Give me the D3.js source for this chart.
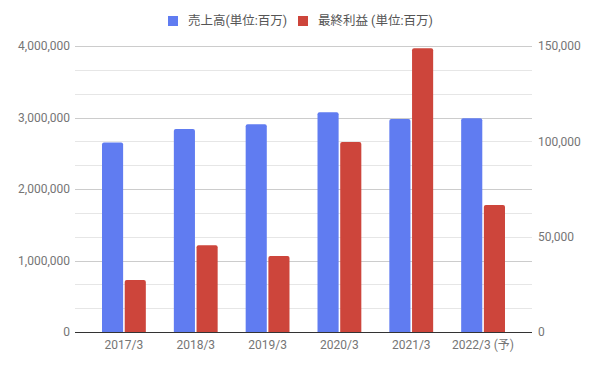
<!DOCTYPE html>
<html>
<head>
<meta charset="utf-8">
<script src="https://cdn.jsdelivr.net/npm/d3@7"></script>
<style>
  body { margin: 0; background: #fff; }
  text { font-family: Roboto, "Noto Sans CJK JP", sans-serif; }
</style>
</head>
<body>
<div id="chart"></div>
<script>
var categories = ["2017/3", "2018/3", "2019/3", "2020/3", "2021/3", "2022/3 (予)"];
var sales = [2650000, 2840000, 2905000, 3073000, 2979000, 2990000];
var profit = [27300, 45500, 39900, 99600, 148800, 66600];
var seriesNames = ["売上高(単位:百万)", "最終利益 (単位:百万)"];
var leftTicks = [0, 1000000, 2000000, 3000000, 4000000];
var rightTicks = [0, 50000, 100000, 150000];

var colors = ["#607cf1", "#cd453b"];
var W = 596, H = 368;
var plotLeft = 75, plotRight = 532, plotTop = 46, plotBottom = 332;

var svg = d3.select("#chart").append("svg")
  .attr("width", W)
  .attr("height", H);

var x = d3.scaleBand()
  .domain(categories)
  .range([88, 519])
  .paddingInner(0.39)
  .paddingOuter(0.195);

var inner = d3.scaleBand()
  .domain([0, 1])
  .range([0, x.bandwidth()])
  .paddingInner(0.07);

var yL = d3.scaleLinear().domain([0, 4000000]).range([plotBottom, plotTop]);
var yR = d3.scaleLinear().domain([0, 150000]).range([plotBottom, plotTop]);

// gridlines: 12 steps, every third one is a major line of the left axis
var grid = d3.range(1, 13).map(function (i) { return i * 4000000 / 12; });
svg.append("g").selectAll("line")
  .data(grid)
  .enter().append("line")
  .attr("x1", plotLeft)
  .attr("x2", plotRight)
  .attr("y1", function (d) { return Math.round(yL(d)) + 0.5; })
  .attr("y2", function (d) { return Math.round(yL(d)) + 0.5; })
  .attr("stroke", function (d, i) { return (i + 1) % 3 === 0 ? "#cccccc" : "#e6e6e6"; })
  .attr("stroke-width", 1);

// rounded-top bar path
function barPath(x0, w, y0, y1) {
  var r = Math.min(2, (y1 - y0) / 2);
  return "M" + x0 + "," + y1 +
    "L" + x0 + "," + (y0 + r) +
    "Q" + x0 + "," + y0 + " " + (x0 + r) + "," + y0 +
    "L" + (x0 + w - r) + "," + y0 +
    "Q" + (x0 + w) + "," + y0 + " " + (x0 + w) + "," + (y0 + r) +
    "L" + (x0 + w) + "," + y1 + "Z";
}

var groups = svg.append("g").selectAll("g")
  .data(categories)
  .enter().append("g")
  .attr("transform", function (d) { return "translate(" + x(d) + ",0)"; });

groups.append("path")
  .attr("fill", colors[0])
  .attr("d", function (d, i) {
    return barPath(inner(0), inner.bandwidth(), yL(sales[i]), plotBottom);
  });

groups.append("path")
  .attr("fill", colors[1])
  .attr("d", function (d, i) {
    return barPath(inner(1), inner.bandwidth(), yR(profit[i]), plotBottom);
  });

// baseline
svg.append("line")
  .attr("x1", plotLeft).attr("x2", plotRight)
  .attr("y1", plotBottom + 0.5).attr("y2", plotBottom + 0.5)
  .attr("stroke", "#333").attr("stroke-width", 1);

// axes
var fmt = d3.format(",");
var axL = svg.append("g")
  .attr("transform", "translate(" + (plotLeft - 5) + ",0)")
  .call(d3.axisLeft(yL).tickValues(leftTicks).tickFormat(fmt).tickSize(0).tickPadding(0));
var axR = svg.append("g")
  .attr("transform", "translate(" + (plotRight + 6) + ",0)")
  .call(d3.axisRight(yR).tickValues(rightTicks).tickFormat(fmt).tickSize(0).tickPadding(0));
var axB = svg.append("g")
  .attr("transform", "translate(0," + plotBottom + ")")
  .call(d3.axisBottom(x).tickSize(0).tickPadding(8));

[axL, axR, axB].forEach(function (a) {
  a.select(".domain").remove();
  a.selectAll("text")
    .attr("fill", "#757575")
    .style("font-size", "12px")
    .style("font-family", "Roboto, 'Noto Sans CJK JP', sans-serif");
});

// legend
var legend = svg.append("g");
var legendItems = [
  { name: seriesNames[0], color: colors[0], x: 168 },
  { name: seriesNames[1], color: colors[1], x: 298 }
];
legendItems.forEach(function (d) {
  legend.append("rect")
    .attr("x", d.x).attr("y", 16)
    .attr("width", 10).attr("height", 10)
    .attr("fill", d.color);
  legend.append("text")
    .attr("x", d.x + 20).attr("y", 25)
    .attr("fill", "#555")
    .style("font-size", "12.5px")
    .text(d.name);
});
</script>
</body>
</html>
